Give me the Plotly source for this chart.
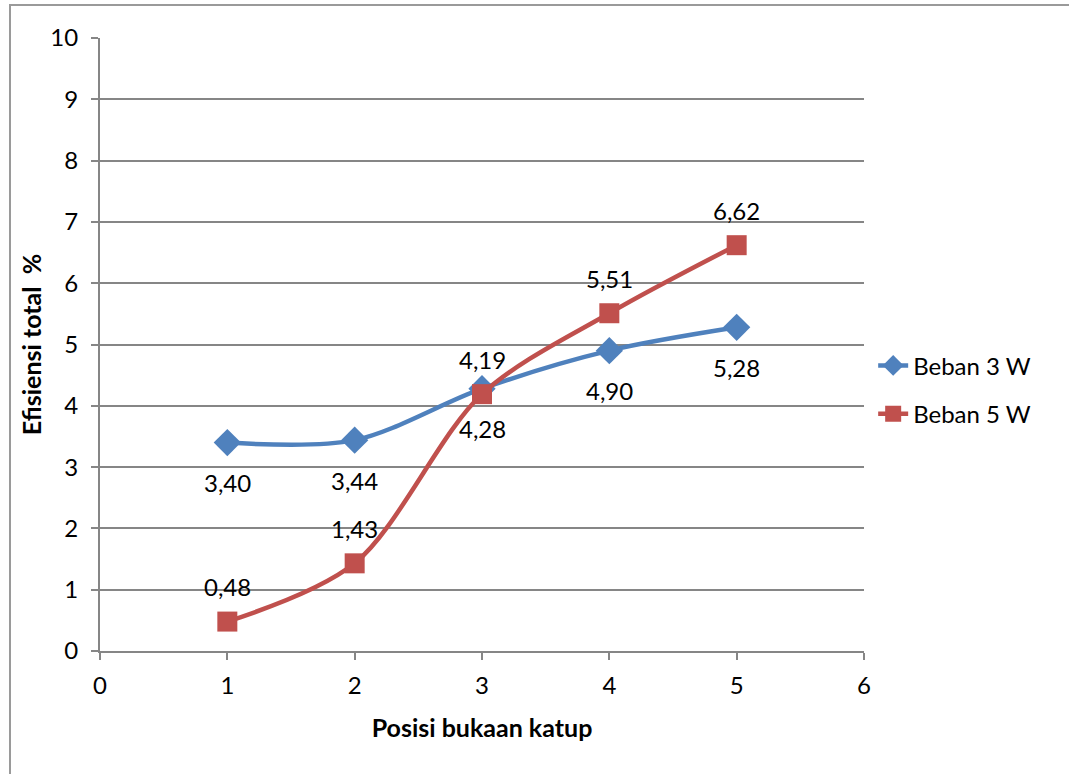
import plotly.graph_objects as go

positions = [1, 2, 3, 4, 5]
beban3 = [3.40, 3.44, 4.28, 4.90, 5.28]
beban5 = [0.48, 1.43, 4.19, 5.51, 6.62]
series_names = ["Beban 3 W", "Beban 5 W"]
x_ticks = [0, 1, 2, 3, 4, 5, 6]
y_ticks = [0, 1, 2, 3, 4, 5, 6, 7, 8, 9, 10]

BLUE = "#4F81BD"
RED = "#C0504D"
GRAY = "#868686"
FONT = "Lato, Carlito, Calibri, sans-serif"

fig = go.Figure()
fig.add_trace(go.Scatter(
    x=positions, y=beban3, name=series_names[0], mode="lines+markers",
    line=dict(color=BLUE, width=4.5, shape="spline", smoothing=0.9),
    marker=dict(symbol="diamond", size=21, color=BLUE),
    legendgroup="a",
))
fig.add_trace(go.Scatter(
    x=positions, y=beban5, name=series_names[1], mode="lines+markers",
    line=dict(color=RED, width=4.5, shape="spline", smoothing=0.9),
    marker=dict(symbol="square", size=20, color=RED),
    legendgroup="b",
))

def fmt(v):
    return f"{v:.2f}".replace(".", ",")

for xv, yv in zip(positions, beban3):
    fig.add_annotation(x=xv, y=yv, text=fmt(yv), showarrow=False, yshift=-40,
                       font=dict(family=FONT, size=24, color="black"))
for xv, yv in zip(positions, beban5):
    fig.add_annotation(x=xv, y=yv, text=fmt(yv), showarrow=False, yshift=35,
                       font=dict(family=FONT, size=24, color="black"))

# outer chart border
fig.add_shape(type="rect", xref="paper", yref="paper",
              x0=-0.1178, y0=-0.4, x1=1.4, y1=1.0538,
              line=dict(color="#9a9a9a", width=2), layer="below")

fig.update_layout(
    width=1069, height=774,
    margin=dict(l=100, r=205, t=38, b=123),
    paper_bgcolor="white", plot_bgcolor="white",
    font=dict(family=FONT, size=24, color="black"),
    showlegend=True,
    legend=dict(x=1.012, y=0.426, xanchor="left", yanchor="middle",
                font=dict(family=FONT, size=24, color="black"),
                tracegroupgap=14, bgcolor="rgba(0,0,0,0)"),
    xaxis=dict(range=[0, 6], tickvals=x_ticks, showgrid=False, zeroline=False,
               showline=True, linecolor=GRAY, linewidth=2,
               ticks="outside", ticklen=7, tickcolor=GRAY, tickwidth=2,
               ticklabelstandoff=5,
               title=dict(text="<b>Posisi bukaan katup</b>", standoff=22,
                          font=dict(family=FONT, size=25))),
    yaxis=dict(range=[0, 10], tickvals=y_ticks, showgrid=True, gridcolor=GRAY,
               gridwidth=1.5, zeroline=False,
               showline=True, linecolor=GRAY, linewidth=2,
               ticks="outside", ticklen=7, tickcolor=GRAY, tickwidth=2,
               ticklabelstandoff=8,
               title=dict(text="<b>Efisiensi total  %</b>", standoff=2,
                          font=dict(family=FONT, size=25))),
)

fig.write_html("out.html")
